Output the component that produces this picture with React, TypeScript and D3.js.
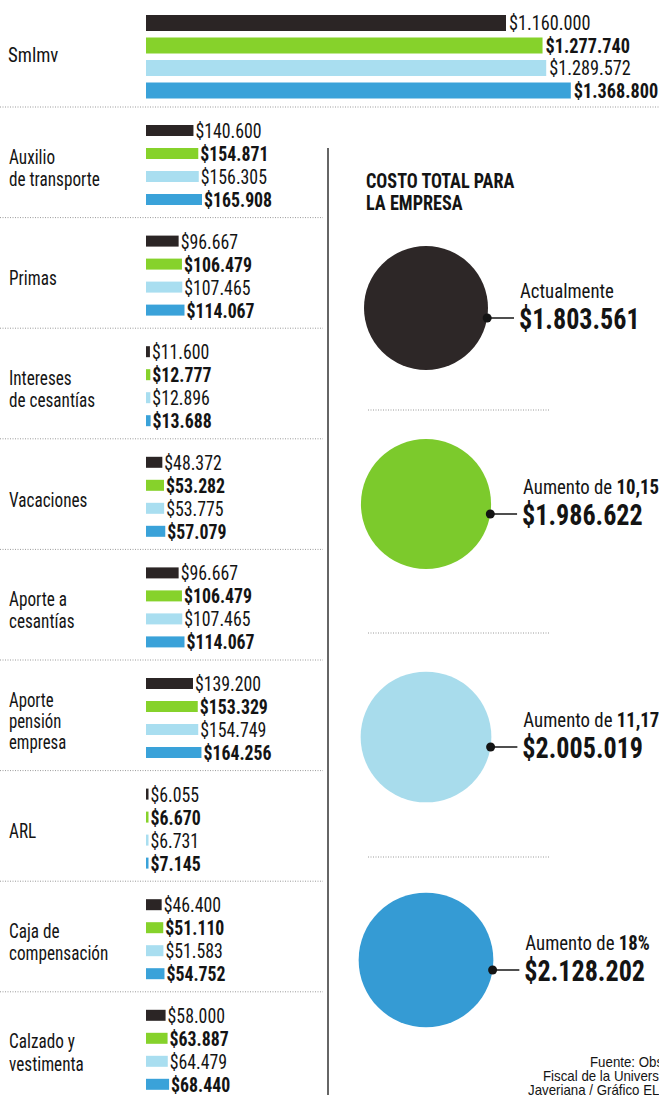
import React from "react";
import * as d3 from "d3";

// ---------- DATA ----------
const categories: string[][] = [
  ["Smlmv"],
  ["Auxilio", "de transporte"],
  ["Primas"],
  ["Intereses", "de cesantías"],
  ["Vacaciones"],
  ["Aporte a", "cesantías"],
  ["Aporte", "pensión", "empresa"],
  ["ARL"],
  ["Caja de", "compensación"],
  ["Calzado y", "vestimenta"],
];
const seriesNames = ["Actualmente", "Aumento 10,15%", "Aumento 11,17%", "Aumento 18%"];
const valuesActual = [1160000, 140600, 96667, 11600, 48372, 96667, 139200, 6055, 46400, 58000];
const values1015 = [1277740, 154871, 106479, 12777, 53282, 106479, 153329, 6670, 51110, 63887];
const values1117 = [1289572, 156305, 107465, 12896, 53775, 107465, 154749, 6731, 51583, 64479];
const values18 = [1368800, 165908, 114067, 13688, 57079, 114067, 164256, 7145, 54752, 68440];
const seriesValues = [valuesActual, values1015, values1117, values18];

const totals = [1803561, 1986622, 2005019, 2128202];
const totalPrefix = ["Actualmente", "Aumento de ", "Aumento de ", "Aumento de "];
const totalPct = ["", "10,15%", "11,17%", "18%"];

const title = ["COSTO TOTAL PARA", "LA EMPRESA"];
const source = ["Fuente: Observatorio", "Fiscal de la Universidad", "Javeriana / Gráfico EL TIEMPO"];

// ---------- STYLE ----------
const barColors = ["#2b2525", "#86d22b", "#a9def0", "#3aa2d9"];
const circleColors = ["#2d2727", "#7cca2c", "#a8dcec", "#359bd4"];
const FONT = "'Liberation Sans Narrow', 'Arial Narrow', 'Roboto Condensed', sans-serif";
const INK = "#141414";

const W = 659;
const H = 1095;

const loc = d3.formatLocale({ decimal: ",", thousands: ".", grouping: [3], currency: ["$", ""] });
const fmt = loc.format("$,");

type TProps = {
  x: number;
  y: number;
  sx: number;
  size: number;
  bold?: boolean;
  children: React.ReactNode;
  family?: string;
};
function T({ x, y, sx, size, bold, children, family }: TProps) {
  return (
    <text
      transform={`translate(${x},${y}) scale(${sx},1)`}
      fontFamily={family || FONT}
      fontSize={size}
      fontWeight={bold ? "bold" : "normal"}
      fill={INK}
    >
      {children}
    </text>
  );
}

export default function App() {
  const x0 = 146;
  const xTop = d3.scaleLinear().domain([0, 1160000]).range([0, 360]);
  const xLow = d3.scaleLinear().domain([0, 165908]).range([0, 56]);
  const rScale = d3.scaleSqrt().domain([0, totals[0]]).range([0, 62]);

  const rowStart = 107;
  const rowH = 110.6;
  const VSX = 0.89; // value text squeeze
  const CSX = 0.86; // category text squeeze

  const els: React.ReactNode[] = [];

  // top section (Smlmv)
  seriesValues.forEach((vals, s) => {
    const y = 15 + s * 22.5;
    const w = xTop(vals[0]);
    els.push(<rect key={`tb${s}`} x={x0} y={y} width={w} height={16} fill={barColors[s]} />);
    els.push(
      <T key={`tt${s}`} x={x0 + w + 3} y={y + 15} sx={VSX} size={20.5} bold={s % 2 === 1}>
        {fmt(vals[0])}
      </T>
    );
  });
  els.push(
    <T key="cat0" x={8} y={62} sx={0.94} size={20}>
      {categories[0][0]}
    </T>
  );
  els.push(
    <line key="sep0" x1={0} x2={W} y1={rowStart} y2={rowStart} stroke="#9a9a9a" strokeWidth={1} strokeDasharray="1,1.5" />
  );

  // lower rows
  for (let i = 1; i < categories.length; i++) {
    const top = rowStart + (i - 1) * rowH;
    const center = top + rowH / 2;
    seriesValues.forEach((vals, s) => {
      const y = top + 18 + s * 23;
      const w = Math.max(2.5, xLow(vals[i]));
      els.push(<rect key={`b${i}-${s}`} x={x0} y={y} width={w} height={11} fill={barColors[s]} />);
      els.push(
        <T key={`v${i}-${s}`} x={x0 + w + 2} y={y + 13} sx={VSX} size={20} bold={s % 2 === 1}>
          {fmt(vals[i])}
        </T>
      );
    });
    const lines = categories[i];
    const lh = lines.length === 3 ? 21 : 22.5;
    lines.forEach((ln, k) => {
      const by = center + 12.5 + (k - (lines.length - 1) / 2) * lh;
      els.push(
        <T key={`c${i}-${k}`} x={9} y={by} sx={CSX} size={lines.length === 3 ? 19.5 : 20}>
          {ln}
        </T>
      );
    });
    if (i < categories.length - 1) {
      const sy = top + rowH;
      els.push(
        <line key={`sep${i}`} x1={0} x2={323} y1={sy} y2={sy} stroke="#9a9a9a" strokeWidth={1} strokeDasharray="1,1.5" />
      );
    }
  }

  // vertical divider
  els.push(<line key="vdiv" x1={328} x2={328} y1={148} y2={H} stroke="#333" strokeWidth={1.5} />);

  // title
  title.forEach((t, k) => {
    els.push(
      <T key={`ti${k}`} x={366} y={188 + k * 22} sx={0.91} size={20} bold>
        {t}
      </T>
    );
  });

  // circles
  const circleY = [308, 504, 737, 960];
  const cx = 426;
  totals.forEach((v, k) => {
    const r = rScale(v);
    const cy = circleY[k];
    const dy = 10;
    const dx = Math.sqrt(r * r - dy * dy);
    const dotX = cx + dx;
    const dotY = cy + dy;
    const lx = cx + r + 32;
    els.push(<circle key={`ci${k}`} cx={cx} cy={cy} r={r} fill={circleColors[k]} />);
    els.push(<circle key={`dot${k}`} cx={dotX} cy={dotY} r={4.5} fill={INK} />);
    els.push(<line key={`cl${k}`} x1={dotX} x2={lx - 6} y1={dotY} y2={dotY} stroke={INK} strokeWidth={1.5} />);
    els.push(
      <T key={`cla${k}`} x={lx} y={dotY - 20} sx={0.94} size={20}>
        {totalPrefix[k]}
        {totalPct[k] && <tspan fontWeight="bold">{totalPct[k]}</tspan>}
      </T>
    );
    els.push(
      <T key={`cv${k}`} x={lx - 1} y={dotY + 11} sx={0.87} size={30} bold>
        {fmt(v)}
      </T>
    );
  });

  // right separators
  [410, 633, 857].forEach((y, k) => {
    els.push(
      <line key={`rs${k}`} x1={368} x2={550} y1={y} y2={y} stroke="#9a9a9a" strokeWidth={1} strokeDasharray="1,1.5" />
    );
  });

  // source
  const srcX = [590, 543, 528];
  source.forEach((s, k) => {
    els.push(
      <T key={`src${k}`} x={srcX[k]} y={1067 + k * 14} sx={0.95} size={14} family="'Liberation Sans', sans-serif">
        {s}
      </T>
    );
  });

  return (
    <svg
      width={W}
      height={H}
      style={{ position: "absolute", left: 0, top: 0, background: "#fff" }}
      aria-label={seriesNames.join(", ")}
    >
      {els}
    </svg>
  );
}
